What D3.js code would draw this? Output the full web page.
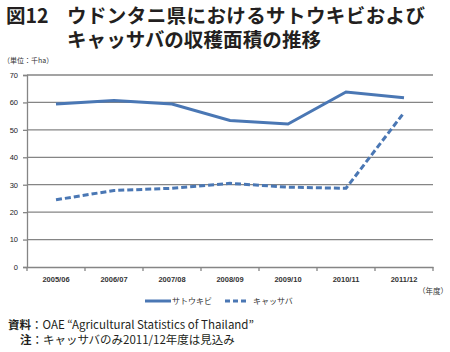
<!DOCTYPE html>
<html>
<head>
<meta charset="utf-8">
<script src="https://cdn.jsdelivr.net/npm/d3@7"></script>
<style>
  body { margin: 0; background: #fff; }
  svg { display: block; font-family: "Noto Sans CJK JP", "Noto Sans", sans-serif; }
</style>
</head>
<body>
<div id="chart"></div>
<script>
const years = ["2005/06", "2006/07", "2007/08", "2008/09", "2009/10", "2010/11", "2011/12"];
const sugarcane = [59.4, 60.7, 59.4, 53.4, 52.1, 63.8, 61.7];
const cassava = [24.5, 27.9, 28.7, 30.5, 29.1, 28.7, 56.3];
const yTicks = [0, 10, 20, 30, 40, 50, 60, 70];

const width = 450, height = 352;
const margin = { top: 75, right: 17, bottom: 85, left: 27 };
const lineColor = "#4a77b4";

const svg = d3.select("#chart").append("svg")
  .attr("width", width)
  .attr("height", height);

// title
const title = svg.append("g").attr("fill", "#231f20").style("font-weight", "bold").style("font-size", "19.5px");
title.append("text").attr("x", 6).attr("y", 23).text("図12");
title.append("text").attr("x", 67).attr("y", 23).attr("textLength", 358).text("ウドンタニ県におけるサトウキビおよび");
title.append("text").attr("x", 67).attr("y", 47).attr("textLength", 254).text("キャッサバの収穫面積の推移");

svg.append("text")
  .attr("x", 3).attr("y", 63)
  .style("font-size", "7px").attr("fill", "#333")
  .text("（単位：千ha）");

const x = d3.scaleBand()
  .domain(years)
  .range([margin.left, width - margin.right]);

const y = d3.scaleLinear()
  .domain([0, 70])
  .range([height - margin.bottom, margin.top]);

// gridlines
svg.append("g")
  .selectAll("line")
  .data(yTicks.filter(d => d > 0))
  .join("line")
  .attr("x1", margin.left).attr("x2", width - margin.right)
  .attr("y1", d => y(d)).attr("y2", d => y(d))
  .attr("stroke", "#858585").attr("stroke-width", 1.3);

// y axis
const yAxis = svg.append("g")
  .attr("transform", `translate(${margin.left},0)`)
  .call(d3.axisLeft(y).tickValues(yTicks).tickSize(4).tickPadding(5));
yAxis.select(".domain").attr("stroke", "#858585").attr("stroke-width", 1.3);
yAxis.selectAll(".tick line").attr("stroke", "#858585").attr("stroke-width", 1.3);
yAxis.selectAll("text").style("font-size", "7.5px").style("font-family", "Liberation Sans, sans-serif").attr("fill", "#222");

// x axis
const xAxis = svg.append("g")
  .attr("transform", `translate(0,${y(0)})`)
  .call(d3.axisBottom(x).tickSize(0).tickPadding(10));
xAxis.select(".domain").attr("stroke", "#858585").attr("stroke-width", 1.3);
xAxis.selectAll("text").style("font-size", "7.5px").style("font-weight", "bold")
  .style("font-family", "Liberation Sans, sans-serif").attr("fill", "#333");
svg.append("g")
  .selectAll("line")
  .data(years.map(d => x(d)).concat([x(years[years.length - 1]) + x.bandwidth()]))
  .join("line")
  .attr("x1", d => d).attr("x2", d => d)
  .attr("y1", y(0)).attr("y2", y(0) + 4)
  .attr("stroke", "#858585").attr("stroke-width", 1.3);

svg.append("text")
  .attr("x", 448).attr("y", 294)
  .attr("text-anchor", "end")
  .style("font-size", "7.5px").attr("fill", "#333")
  .text("（年度）");

const line = d3.line()
  .x((d, i) => x(years[i]) + x.bandwidth() / 2)
  .y(d => y(d));

svg.append("path")
  .datum(sugarcane)
  .attr("d", line)
  .attr("fill", "none")
  .attr("stroke", lineColor)
  .attr("stroke-width", 3);

svg.append("path")
  .datum(cassava)
  .attr("d", line)
  .attr("fill", "none")
  .attr("stroke", lineColor)
  .attr("stroke-width", 3)
  .attr("stroke-dasharray", "6,3");

// legend
const legend = svg.append("g").style("font-size", "8px").attr("fill", "#333");
legend.append("line").attr("x1", 145).attr("x2", 171).attr("y1", 301).attr("y2", 301)
  .attr("stroke", lineColor).attr("stroke-width", 3);
legend.append("text").attr("x", 172).attr("y", 304).text("サトウキビ");
legend.append("line").attr("x1", 225).attr("x2", 248).attr("y1", 301).attr("y2", 301)
  .attr("stroke", lineColor).attr("stroke-width", 3).attr("stroke-dasharray", "5,3");
legend.append("text").attr("x", 253).attr("y", 304).text("キャッサバ");

// notes
const notes = svg.append("g").style("font-size", "11.5px").attr("fill", "#231f20");
notes.append("text").attr("x", 8).attr("y", 329)
  .html('<tspan font-weight="bold">資料</tspan>：OAE “Agricultural Statistics of Thailand”');
notes.append("text").attr("x", 20).attr("y", 344)
  .html('<tspan font-weight="bold">注</tspan>：キャッサバのみ2011/12年度は見込み');
</script>
</body>
</html>
